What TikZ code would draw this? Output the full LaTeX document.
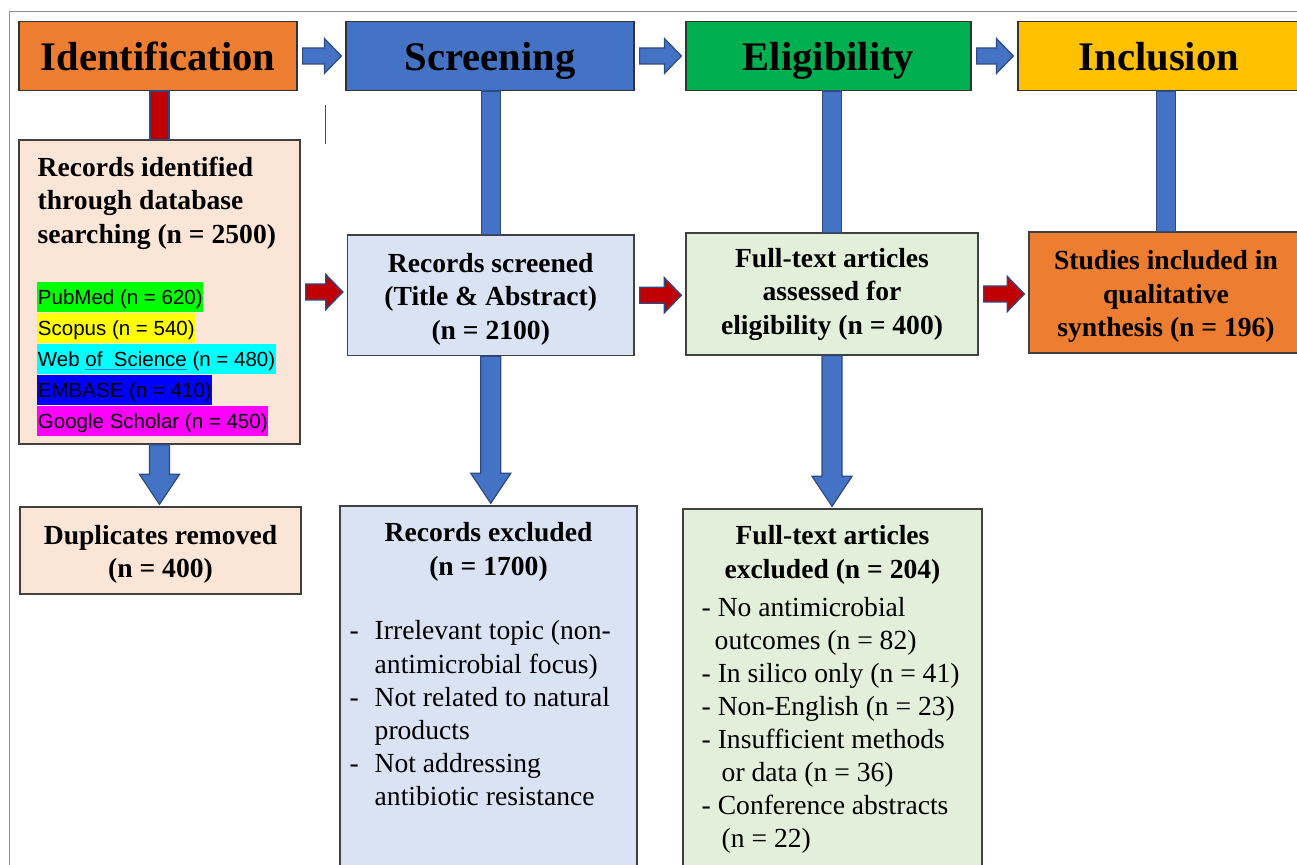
\documentclass[tikz,border=0pt]{standalone}
\usepackage{fontspec}
\setmainfont{Liberation Serif}
\newfontfamily\arialfont{Liberation Sans}
\usetikzlibrary{calc,positioning}
\definecolor{idorange}{HTML}{ED7D31}
\definecolor{scrblue}{HTML}{4472C4}
\definecolor{eliggreen}{HTML}{00B050}
\definecolor{inclgold}{HTML}{FFC000}
\definecolor{peach}{HTML}{FBE5D6}
\definecolor{paleblue}{HTML}{DAE3F3}
\definecolor{palegreen}{HTML}{E2EFDA}
\definecolor{barred}{HTML}{C00000}
\definecolor{navyline}{HTML}{2F4A80}
\definecolor{framegray}{HTML}{8C8C8C}
\definecolor{dbgreen}{HTML}{00FF00}
\definecolor{dbyellow}{HTML}{FFFF00}
\definecolor{dbcyan}{HTML}{00FFFF}
\definecolor{dbblue}{HTML}{0000FF}
\definecolor{dbmagenta}{HTML}{FF00FF}
\newcommand{\dashitem}{\makebox[12.5pt][l]{-}}
\newcommand{\dashgap}{\hspace*{12.5pt}}
\newcommand{\toppad}{\rule{0pt}{13.5pt}}
% connectors between named boxes
\newcommand{\phasebar}[3][bar]{%
  \draw[#1] ($(#2.south -| #3.north)+(-9.5,0)$) rectangle ($(#3.north)+(9.5,0)$);}
\newcommand{\downblock}[2]{%
  \coordinate (tail) at (#1.south);
  \coordinate (tip) at ($(#1.south |- #2.north)+(0,-2)$);
  \draw[blockarrow] ($(tail)+(-10,0)$) -- ($(tip)+(-10,-30)$) -- ($(tip)+(-20,-30)$)
    -- (tip) -- ($(tip)+(20,-30)$) -- ($(tip)+(10,-30)$) -- ($(tail)+(10,0)$) -- cycle;}
\newcommand{\rightblock}[3][blockarrow]{%
  \coordinate (tail) at ($(#2.east)+(5,0)$);
  \coordinate (tip) at ($(#2.east -| #3.west)+(-4,0)$);
  \draw[#1] ($(tail)+(0,-8)$) -- ($(tip)+(-17,-8)$) -- ($(tip)+(-17,-17.5)$)
    -- (tip) -- ($(tip)+(-17,17.5)$) -- ($(tip)+(-17,8)$) -- ($(tail)+(0,8)$) -- cycle;}
\tikzset{
prisma/.style={x=0.5pt,y=-0.5pt},
phase/.style={rectangle,draw=black!80,line width=0.6pt,inner sep=0pt,
  minimum height=34.5pt,text height=18pt,text depth=3.3pt,
  font=\fontsize{20.3}{24}\selectfont\bfseries},
box/.style={rectangle,draw=black!75,line width=0.7pt,inner sep=0pt},
boxtext/.style={font=\fontsize{13.8}{16.75}\selectfont\bfseries,align=center},
listtext/.style={font=\fontsize{13.8}{16.6}\selectfont,align=left,inner sep=0pt},
dbline/.style={font=\arialfont\fontsize{10.25}{12}\selectfont,inner ysep=0pt,
  inner xsep=0.3pt,text height=11.3pt,text depth=3.7pt,anchor=north west},
bar/.style={draw=navyline,line width=0.6pt},
blockarrow/.style={fill=scrblue,draw=navyline,line width=0.6pt},
redarrow/.style={fill=barred,draw=navyline,line width=0.7pt},
}
\begin{document}
\begin{tikzpicture}[prisma]
\useasboundingbox (0,0) rectangle (1297,865);
\clip (0,0) rectangle (1297,865);
\draw[framegray,line width=0.8pt] (9.5,11.7) rectangle (1330,900);
% phases
\node[phase,fill=idorange,minimum width=139pt] (ident) at (158,56) {Identification};
\node[phase,fill=scrblue,minimum width=144pt] (screen) at (490,56) {Screening};
\node[phase,fill=eliggreen,minimum width=142.5pt] (elig) at (828.5,56) {Eligibility};
\node[phase,fill=inclgold,minimum width=141pt] (incl) at (1159,56) {Inclusion};
% identification
\node[box,fill=peach,minimum width=140.5pt,minimum height=152pt] (recid) at (159.5,292) {};
\node[boxtext,align=left,inner sep=0pt,below right=8.5pt and 9.5pt of recid.north west] (recidtxt)
  {Records identified\\through database\\searching (n = 2500)};
\node[dbline,fill=dbgreen,below right=71.35pt and 9.35pt of recid.north west] (pubmed) {PubMed (n = 620)};
\node[dbline,fill=dbyellow] (scopus) at (pubmed.south west) {Scopus (n = 540)};
\node[dbline,fill=dbcyan] (wos) at (scopus.south west)
  {Web {\color{scrblue}\underline{\color{black}of\ \ Science}} (n = 480)};
\node[dbline,fill=dbblue] (embase) at (wos.south west) {EMBASE (n = 410)};
\node[dbline,fill=dbmagenta] (gscholar) at (embase.south west) {Google Scholar (n = 450)};
\node[box,boxtext,fill=peach,minimum width=140.5pt,minimum height=43.5pt] (dup) at (160.5,550.5)
  {\toppad Duplicates removed\\(n = 400)};
% screening
\node[box,boxtext,fill=paleblue,minimum width=143.25pt,minimum height=60.25pt] (scr) at (490.75,295.25)
  {\toppad Records screened\\(Title \& Abstract)\\(n = 2100)};
\node[box,fill=paleblue,minimum width=148.5pt,minimum height=182pt] (recex) at (488.5,688) {};
\node[boxtext,inner sep=0pt,below=8.5pt of recex.north] (recextxt) {Records excluded\\(n = 1700)};
\node[listtext,below right=57.5pt and 5pt of recex.north west] (recexlist)
  {\dashitem Irrelevant topic (non-\\\dashgap antimicrobial focus)\\\dashitem Not related to natural\\\dashgap products\\\dashitem Not addressing\\\dashgap antibiotic resistance};
% eligibility
\node[box,boxtext,fill=palegreen,minimum width=146pt,minimum height=61pt] (assess) at (832,294)
  {Full-text articles\\assessed for\\eligibility (n = 400)};
\node[box,fill=palegreen,minimum width=149.5pt,minimum height=180.5pt] (ftex) at (832.5,689.5) {};
\node[boxtext,inner sep=0pt,below=8.5pt of ftex.north] (ftextxt) {Full-text articles\\excluded (n = 204)};
\node[listtext,font=\fontsize{13.8}{16.5}\selectfont,below right=44.5pt and 9.5pt of ftex.north west] (ftexlist)
  {- No antimicrobial\\\hspace*{6.5pt}outcomes (n = 82)\\- In silico only (n = 41)\\- Non-English (n = 23)\\- Insufficient methods\\\hspace*{10pt}or data (n = 36)\\- Conference abstracts\\\hspace*{10pt}(n = 22)};
% inclusion
\node[box,boxtext,fill=idorange,minimum width=137pt,minimum height=60.5pt] (incd) at (1166,292.5)
  {\toppad Studies included in\\qualitative\\synthesis (n = 196)};
% connectors
\phasebar[bar,fill=barred]{ident}{recid}
\phasebar[bar,fill=scrblue]{screen}{scr}
\phasebar[bar,fill=scrblue]{elig}{assess}
\phasebar[bar,fill=scrblue]{incl}{incd}
\downblock{recid}{dup}
\downblock{scr}{recex}
\downblock{assess}{ftex}
\rightblock{ident}{screen}
\rightblock{screen}{elig}
\rightblock{elig}{incl}
\rightblock[redarrow]{recid}{scr}
\rightblock[redarrow]{scr}{assess}
\rightblock[redarrow]{assess}{incd}
\draw[black!70,line width=0.6pt] (325.7,105) -- (325.7,144);
\end{tikzpicture}
\end{document}
